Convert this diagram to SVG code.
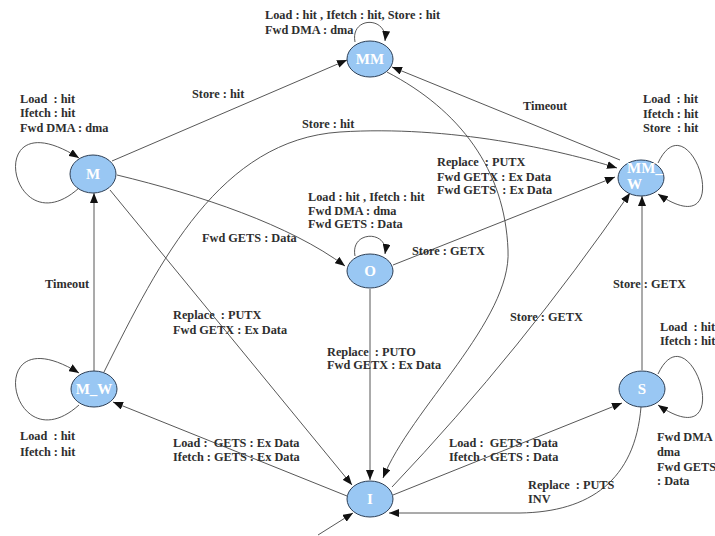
<svg xmlns="http://www.w3.org/2000/svg" width="715" height="536" viewBox="0 0 715 536">
<style>
.n ellipse{fill:#99c7f3;stroke:#2e3f55;stroke-width:1}
.n text{font-family:"Liberation Serif",serif;font-weight:bold;font-size:15px;fill:#ffffff}
.e path{fill:none;stroke:#444;stroke-width:0.9}
.a{marker-end:url(#ah)}
.l{font-family:"Liberation Serif",serif;font-weight:bold;font-size:12.3px;fill:#2e2e2e;white-space:pre}
</style>
<defs>
<marker id="ah" viewBox="0 0 10 8" refX="10" refY="4" markerWidth="10" markerHeight="8" markerUnits="userSpaceOnUse" orient="auto">
<path d="M0,0 L10,4 L0,8 Z" fill="#111"/>
</marker>
</defs>
<rect width="715" height="536" fill="#ffffff"/>
<g id="connectors" class="e">
<path class="a" d="M79,188 C10,250 -20,95 79,158"/>
<path class="a" d="M79,405 C10,467 -20,312 79,373"/>
<path class="a" d="M355,42 C350,16 388,16 385,41"/>
<path class="a" d="M355,256 C350,230 389,230 385,254"/>
<path class="a" d="M658,163 C690,95 740,250 658,194"/>
<path class="a" d="M658,374 C690,306 740,461 658,405"/>
<path class="a" d="M112,161 L347,60"/>
<path class="a" d="M620,160 L392,67"/>
<path class="a" d="M94,371 L94,193"/>
<path class="a" d="M117,175 C200,195 290,225 345,266"/>
<path class="a" d="M110,190 L352,485"/>
<path class="a" d="M104,372 C160,260 220,140 340,132 C450,125 560,150 617,168"/>
<path class="a" d="M393,265 L615,177"/>
<path class="a" d="M387,72 C460,110 505,170 508,250 C512,320 410,410 383,478"/>
<path class="a" d="M370,289 L370,480"/>
<path class="a" d="M347,496 L113,402"/>
<path class="a" d="M393,495 L622,403"/>
<path class="a" d="M642,370 L642,196"/>
<path class="a" d="M392,487 Q522,350 630,193"/>
<path class="a" d="M641,407 C635,480 590,512 520,513 L389,513"/>
<path class="a" d="M318,535 L353,513"/>
</g>
<g id="labels">
<text class="l" x="265" y="19">Load : hit , Ifetch : hit, Store : hit</text>
<text class="l" x="265" y="34">Fwd DMA : dma</text>
<text class="l" x="20" y="103">Load  : hit</text>
<text class="l" x="20" y="117">Ifetch : hit</text>
<text class="l" x="20" y="132">Fwd DMA : dma</text>
<text class="l" x="192" y="98">Store : hit</text>
<text class="l" x="302" y="128">Store : hit</text>
<text class="l" x="523" y="110">Timeout</text>
<text class="l" x="643" y="103">Load  : hit</text>
<text class="l" x="643" y="118">Ifetch : hit</text>
<text class="l" x="643" y="132">Store  : hit</text>
<text class="l" x="437" y="166">Replace  : PUTX</text>
<text class="l" x="437" y="181">Fwd GETX : Ex Data</text>
<text class="l" x="437" y="194">Fwd GETS  : Ex Data</text>
<text class="l" x="308" y="201">Load : hit , Ifetch : hit</text>
<text class="l" x="308" y="215">Fwd DMA : dma</text>
<text class="l" x="308" y="228">Fwd GETS : Data</text>
<text class="l" x="202" y="242">Fwd GETS : Data</text>
<text class="l" x="412" y="255">Store : GETX</text>
<text class="l" x="45" y="288">Timeout</text>
<text class="l" x="613" y="288">Store : GETX</text>
<text class="l" x="173" y="319">Replace  : PUTX</text>
<text class="l" x="173" y="334">Fwd GETX : Ex Data</text>
<text class="l" x="510" y="321">Store : GETX</text>
<text class="l" x="660" y="331">Load  : hit</text>
<text class="l" x="660" y="345">Ifetch : hit</text>
<text class="l" x="327" y="356">Replace  : PUTO</text>
<text class="l" x="327" y="369">Fwd GETX : Ex Data</text>
<text class="l" x="20" y="440">Load  : hit</text>
<text class="l" x="20" y="456">Ifetch : hit</text>
<text class="l" x="173" y="447">Load :  GETS : Ex Data</text>
<text class="l" x="173" y="461">Ifetch : GETS : Ex Data</text>
<text class="l" x="449" y="447">Load :  GETS : Data</text>
<text class="l" x="449" y="461">Ifetch : GETS : Data</text>
<text class="l" x="657" y="441">Fwd DMA</text>
<text class="l" x="657" y="456">dma</text>
<text class="l" x="657" y="471">Fwd GETS</text>
<text class="l" x="657" y="485">: Data</text>
<text class="l" x="528" y="489">Replace  : PUTS</text>
<text class="l" x="528" y="503">INV</text>
</g>
<g id="node-MM" class="n"><ellipse cx="370" cy="59" rx="23" ry="18"/><text x="370" y="64" text-anchor="middle">MM</text></g>
<g id="node-M" class="n"><ellipse cx="93" cy="174" rx="23" ry="19"/><text x="93" y="179" text-anchor="middle">M</text></g>
<g id="node-MM_W" class="n"><ellipse cx="641" cy="178" rx="23" ry="18"/><text x="627" y="173">MM_</text><text x="627" y="189">W</text></g>
<g id="node-O" class="n"><ellipse cx="370" cy="271" rx="23" ry="17"/><text x="370" y="276" text-anchor="middle">O</text></g>
<g id="node-M_W" class="n"><ellipse cx="94" cy="389" rx="23" ry="18"/><text x="94" y="394" text-anchor="middle">M_W</text></g>
<g id="node-S" class="n"><ellipse cx="642" cy="389" rx="23" ry="18"/><text x="642" y="394" text-anchor="middle">S</text></g>
<g id="node-I" class="n"><ellipse cx="370" cy="499" rx="23" ry="18"/><text x="370" y="504" text-anchor="middle">I</text></g>
</svg>
